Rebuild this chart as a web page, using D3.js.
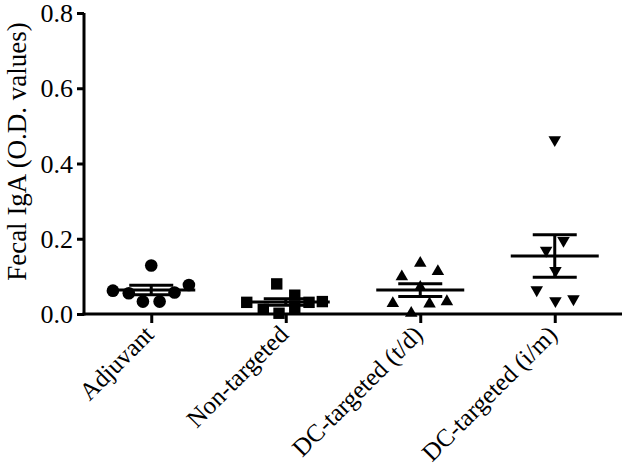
<!DOCTYPE html>
<html><head><meta charset="utf-8">
<script src="https://cdn.jsdelivr.net/npm/d3@7"></script>
<style>body{margin:0;background:#fff;} svg{display:block;}</style>
</head><body>
<svg id="c" width="625" height="472"></svg>
<script>
const categories = ["Adjuvant", "Non-targeted", "DC-targeted (t/d)", "DC-targeted (i/m)"];
const shapes = ["circle", "square", "triangle", "triangleDown"];
const adjuvantVals = [0.129, 0.062, 0.055, 0.033, 0.033, 0.057, 0.077];
const adjuvantJitter = [0, -0.285, -0.167, -0.062, 0.062, 0.173, 0.28];
const nonTargetedVals = [0.080, 0.031, 0.0125, 0.002, 0.050, 0.015, 0.031, 0.033];
const nonTargetedJitter = [-0.067, -0.29, -0.167, -0.05, 0.067, 0.067, 0.173, 0.272];
const tdVals = [0.135, 0.113, 0.099, 0.071, 0.028, 0.027, 0.033, 0.002];
const tdJitter = [0, 0.131, -0.137, 0, -0.204, 0.069, 0.198, -0.067];
const imVals = [0.463, 0.195, 0.169, 0.115, 0.064, 0.035, 0.040];
const imJitter = [0, 0.065, -0.064, 0.005, -0.134, 0.005, 0.139];
const yTicks = [0.0, 0.2, 0.4, 0.6, 0.8];
const yLabel = "Fecal IgA (O.D. values)";

const groups = [
  {vals: adjuvantVals, jit: adjuvantJitter},
  {vals: nonTargetedVals, jit: nonTargetedJitter},
  {vals: tdVals, jit: tdJitter},
  {vals: imVals, jit: imJitter}
];

const svg = d3.select("#c");
const font = "Liberation Serif";
const x = d3.scalePoint().domain(categories).range([84, 622]).padding(0.5);
const y = d3.scaleLinear().domain([0, 0.8]).range([314, 13]);
const step = x.step();

// axes
const yAxis = svg.append("g").attr("transform", "translate(84,0)")
  .call(d3.axisLeft(y).tickValues(yTicks).tickFormat(d3.format(".1f")).tickSize(7).tickSizeOuter(0));
const xAxis = svg.append("g").attr("transform", "translate(0,314)")
  .call(d3.axisBottom(x).tickSize(9).tickSizeOuter(0).tickFormat(""));
[yAxis, xAxis].forEach(a => {
  a.attr("font-family", font);
  a.select(".domain").attr("stroke", "#000").attr("stroke-width", 3);
  a.selectAll(".tick line").attr("stroke", "#000").attr("stroke-width", 3);
});
yAxis.select(".domain").attr("d", `M0,${y(0)+1.5}V${y(0.8)}`);
xAxis.select(".domain").attr("d", `M82.5,0H${x.range()[1]}`);
yAxis.selectAll(".tick text").attr("font-family", font).attr("font-size", 26).attr("fill", "#000").attr("x", -11).attr("dy", "0.33em");

// x labels
svg.append("g").selectAll("text").data(categories).join("text")
  .attr("transform", d => `translate(${x(d) + 4},${336}) rotate(-45)`)
  .attr("text-anchor", "end")
  .attr("font-family", font).attr("font-size", 25).attr("fill", "#000")
  .text(d => d);

// y label
svg.append("text")
  .attr("transform", `translate(26,${(y(0.8)+y(0))/2 - 12}) rotate(-90)`)
  .attr("text-anchor", "middle")
  .attr("font-family", font).attr("font-size", 27).attr("fill", "#000")
  .text(yLabel);

const symMap = {
  circle: d3.symbol().type(d3.symbolCircle).size(125),
  square: d3.symbol().type(d3.symbolSquare).size(130),
  triangle: d3.symbol().type(d3.symbolTriangle).size(68),
  triangleDown: d3.symbol().type(d3.symbolTriangle).size(68)
};

groups.forEach((g, i) => {
  const cx = x(categories[i]);
  const shape = shapes[i];
  const pts = svg.append("g");
  pts.selectAll("path").data(g.vals).join("path")
    .attr("d", symMap[shape]())
    .attr("transform", (v, j) => `translate(${cx + g.jit[j]*step},${y(v)})` + (shape === "triangleDown" ? " rotate(180)" : ""))
    .attr("fill", "#000");

  const m = d3.mean(g.vals);
  const sem = d3.deviation(g.vals) / Math.sqrt(g.vals.length);
  const eb = svg.append("g").attr("stroke", "#000").attr("stroke-width", 3).attr("fill", "none");
  eb.append("line").attr("x1", cx - 44).attr("x2", cx + 44).attr("y1", y(m)).attr("y2", y(m));
  eb.append("line").attr("x1", cx - 22).attr("x2", cx + 22).attr("y1", y(m + sem)).attr("y2", y(m + sem));
  eb.append("line").attr("x1", cx - 22).attr("x2", cx + 22).attr("y1", y(m - sem)).attr("y2", y(m - sem));
  eb.append("line").attr("x1", cx).attr("x2", cx).attr("y1", y(m + sem)).attr("y2", y(m - sem));
});
</script>
</body></html>
